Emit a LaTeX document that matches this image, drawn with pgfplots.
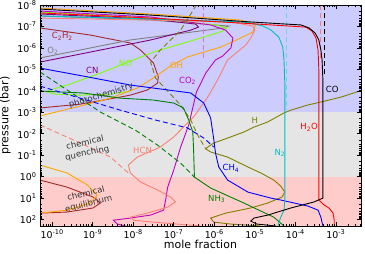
\documentclass[border=0pt]{standalone}
\usepackage{pgfplots}
\pgfplotsset{compat=1.18}
\usepackage{fontspec}
\setmainfont{DejaVu Sans}
\definecolor{bgblue}{rgb}{0.8,0.8,1}
\definecolor{bggray}{rgb}{0.898,0.898,0.898}
\definecolor{bgpink}{rgb}{1,0.8,0.8}
\definecolor{cbrown}{rgb}{0.65,0.16,0.16}
\definecolor{cgray}{rgb}{0.5,0.5,0.5}
\definecolor{cpurple}{rgb}{0.5,0,0.5}
\definecolor{clime}{rgb}{0.5,1,0}
\definecolor{corange}{rgb}{1,0.65,0}
\definecolor{cmagenta}{rgb}{0.75,0,0.75}
\definecolor{csalmon}{rgb}{0.98,0.5,0.45}
\definecolor{colive}{rgb}{0.5,0.5,0}
\definecolor{ccyan}{rgb}{0,0.75,0.75}
\definecolor{cgreen}{rgb}{0,0.5,0}
\definecolor{txt}{rgb}{0.2,0.2,0.2}
\begin{document}
\begin{tikzpicture}
\useasboundingbox (-40pt,-28pt) rectangle (325pt,226pt);
\begin{axis}[
  at={(0,0)}, anchor=south west, scale only axis,
  width=321pt, height=221pt,
  xmin=-10.3, xmax=-2.38, ymin=-8, ymax=2.3, y dir=reverse,
  xtick={-10,-9,-8,-7,-6,-5,-4,-3},
  xticklabels={10\textsuperscript{-10},10\textsuperscript{-9},10\textsuperscript{-8},10\textsuperscript{-7},10\textsuperscript{-6},10\textsuperscript{-5},10\textsuperscript{-4},10\textsuperscript{-3}},
  ytick={-8,-7,-6,-5,-4,-3,-2,-1,0,1,2},
  yticklabels={10\textsuperscript{-8},10\textsuperscript{-7},10\textsuperscript{-6},10\textsuperscript{-5},10\textsuperscript{-4},10\textsuperscript{-3},10\textsuperscript{-2},10\textsuperscript{-1},10\textsuperscript{0},10\textsuperscript{1},10\textsuperscript{2}},
  minor xtick={-10.222,-10.155,-10.097,-10.046,
    -9.699,-9.523,-9.398,-9.301,-9.222,-9.155,-9.097,-9.046,
    -8.699,-8.523,-8.398,-8.301,-8.222,-8.155,-8.097,-8.046,
    -7.699,-7.523,-7.398,-7.301,-7.222,-7.155,-7.097,-7.046,
    -6.699,-6.523,-6.398,-6.301,-6.222,-6.155,-6.097,-6.046,
    -5.699,-5.523,-5.398,-5.301,-5.222,-5.155,-5.097,-5.046,
    -4.699,-4.523,-4.398,-4.301,-4.222,-4.155,-4.097,-4.046,
    -3.699,-3.523,-3.398,-3.301,-3.222,-3.155,-3.097,-3.046,
    -2.699,-2.523,-2.398},
  minor ytick={-7.699,-7.523,-7.398,-7.301,-7.222,-7.155,-7.097,-7.046,
    -6.699,-6.523,-6.398,-6.301,-6.222,-6.155,-6.097,-6.046,
    -5.699,-5.523,-5.398,-5.301,-5.222,-5.155,-5.097,-5.046,
    -4.699,-4.523,-4.398,-4.301,-4.222,-4.155,-4.097,-4.046,
    -3.699,-3.523,-3.398,-3.301,-3.222,-3.155,-3.097,-3.046,
    -2.699,-2.523,-2.398,-2.301,-2.222,-2.155,-2.097,-2.046,
    -1.699,-1.523,-1.398,-1.301,-1.222,-1.155,-1.097,-1.046,
    -0.699,-0.523,-0.398,-0.301,-0.222,-0.155,-0.097,-0.046,
    0.301,0.477,0.602,0.699,0.778,0.845,0.903,0.954,
    1.301,1.477,1.602,1.699,1.778,1.845,1.903,1.954},
  tick align=inside, major tick length=4pt, minor tick length=2pt,
  tick style={black, line width=0.6pt},
  axis line style={line width=0.8pt},
  axis on top,
  xlabel={mole fraction}, ylabel={pressure (bar)},
  xlabel style={yshift=5pt},
  ticklabel style={font=\fontsize{9.4}{10}\selectfont},
  label style={font=\fontsize{11}{12}\selectfont},
  every axis plot/.append style={line width=0.9pt},
]
% background regions
\addplot[draw=none, fill=bgblue] coordinates {(-10.3,-8) (-2.38,-8) (-2.38,-3) (-10.3,-3)} -- cycle;
\addplot[draw=none, fill=bggray] coordinates {(-10.3,-3) (-2.38,-3) (-2.38,0) (-10.3,0)} -- cycle;
\addplot[draw=none, fill=bgpink] coordinates {(-10.3,0) (-2.38,0) (-2.38,2.3) (-10.3,2.3)} -- cycle;

% C2H2
\addplot[cbrown] coordinates {(-10.30,-6.93) (-9.06,-6.60) (-8.07,-6.23) (-7.82,-5.90) (-7.50,-5.30) (-7.38,-4.64) (-7.40,-4.36) (-7.65,-4.04) (-8.07,-3.80) (-8.32,-3.71) (-9.31,-3.38) (-10.30,-3.20)};
\addplot[cbrown] coordinates {(-10.30,0.16) (-9.63,0.49) (-8.99,0.95) (-8.81,1.23) (-8.99,1.46) (-9.63,1.65) (-10.30,1.70)};
% O2
\addplot[cgray] coordinates {(-10.30,-7.49) (-7.57,-7.30) (-5.64,-7.02) (-5.77,-6.93) (-8.07,-6.37) (-10.30,-5.53)};
% CN
\addplot[cpurple] coordinates {(-10.30,-7.58) (-7.57,-7.35) (-6.46,-7.11) (-6.39,-6.97) (-6.58,-6.83) (-7.57,-6.37) (-8.81,-5.90) (-10.30,-5.34)};
% NO
\addplot[clime] coordinates {(-10.30,-7.67) (-7.57,-7.39) (-5.97,-7.07) (-5.69,-6.93) (-5.79,-6.79) (-6.01,-6.65) (-6.66,-6.28) (-7.50,-5.81) (-7.99,-5.44) (-8.81,-4.83) (-9.55,-4.32) (-10.05,-4.04) (-10.12,-3.94) (-9.93,-3.85) (-9.31,-3.80) (-8.56,-3.85) (-8.07,-3.99)};
% OH
\addplot[corange] coordinates {(-10.30,-7.86) (-7.57,-7.58) (-5.35,-7.30) (-4.98,-7.07) (-5.05,-6.74) (-5.35,-6.46) (-5.84,-6.04) (-6.66,-5.58) (-7.08,-5.16) (-7.50,-4.60) (-7.90,-4.13) (-8.56,-3.66) (-9.31,-3.29) (-10.30,-2.83)};
\addplot[corange] coordinates {(-10.30,-0.54) (-9.63,-0.17) (-9.13,0.39) (-8.89,0.86) (-9.06,1.23) (-9.63,1.56) (-10.30,1.70)};
% CO2
\addplot[cmagenta] coordinates {(-10.30,-7.72) (-7.57,-7.44) (-6.09,-7.07) (-5.72,-6.83) (-5.54,-6.46) (-5.59,-6.00) (-5.79,-5.62) (-5.97,-5.44) (-6.21,-4.83) (-6.44,-3.94) (-6.63,-2.41) (-6.83,-1.38) (-7.00,-0.31) (-7.15,0.49) (-7.20,1.09) (-7.25,1.56) (-7.57,1.79) (-8.07,1.93) (-8.49,2.03) (-8.39,2.21) (-8.19,2.30)};
\addplot[cmagenta!55!white, dash pattern=on 5pt off 3pt] coordinates {(-6.26,-8) (-6.26,-5.53)};
% HCN
\addplot[csalmon] coordinates {(-10.30,-7.39) (-7.57,-7.30) (-5.59,-7.21) (-5.05,-7.02) (-5.00,-6.83) (-5.10,-6.46) (-5.22,-6.14) (-5.67,-5.44) (-5.92,-4.50) (-6.16,-3.71) (-6.51,-2.78) (-6.76,-2.31) (-7.00,-1.85) (-7.33,-1.38) (-7.50,-1.24) (-7.90,-0.91) (-8.12,-0.54) (-8.07,-0.17) (-7.82,0.25) (-7.40,0.62) (-7.08,0.95) (-6.96,1.18) (-7.15,1.42) (-7.65,1.70) (-8.07,1.89) (-7.99,2.03) (-7.50,2.12) (-6.91,2.21) (-6.34,2.30)};
\addplot[csalmon, dash pattern=on 5pt off 3pt] coordinates {(-10.30,-2.41) (-9.31,-1.57) (-8.56,-0.91) (-8.12,-0.17)};
% H
\addplot[colive] coordinates {(-2.33,-4.04) (-2.87,-3.71) (-3.37,-3.48) (-3.69,-3.34) (-4.11,-3.10) (-4.28,-2.97) (-4.68,-2.55) (-5.02,-2.31) (-5.27,-2.08) (-5.67,-1.80) (-6.01,-1.57) (-6.16,-1.38) (-6.21,-1.29) (-6.09,-1.15) (-5.67,-0.91) (-5.17,-0.45) (-4.85,-0.17) (-4.53,0.16) (-4.36,0.44) (-4.26,0.72) (-4.33,0.95) (-4.68,1.23) (-5.10,1.46) (-5.72,1.70) (-6.09,1.93) (-6.01,2.12) (-5.59,2.21) (-4.85,2.30)};
\addplot[colive, dash pattern=on 5pt off 3pt] coordinates {(-6.44,-8.0) (-6.83,-6.83) (-7.33,-5.90) (-7.57,-5.34) (-7.45,-4.60) (-7.13,-3.94) (-6.83,-3.34) (-6.58,-2.64) (-6.41,-1.94) (-6.21,-1.29)};
% NH3
\addplot[cgreen] coordinates {(-10.30,-3.99) (-9.24,-3.90) (-8.32,-3.66) (-7.50,-3.57) (-7.00,-3.43) (-6.76,-3.20) (-6.63,-2.64) (-6.53,-2.08) (-6.51,-1.24) (-6.49,0.02) (-6.09,0.53) (-5.27,1.23) (-4.53,1.89) (-4.28,2.30)};
\addplot[cgreen, dash pattern=on 5pt off 3pt] coordinates {(-10.30,-4.88) (-8.81,-3.01) (-7.95,-2.17) (-7.40,-1.47) (-6.83,-0.63) (-6.49,0.02)};
% CH4
\addplot[blue] coordinates {(-10.30,-5.06) (-9.24,-4.69) (-8.07,-4.27) (-6.58,-3.90) (-6.26,-3.43) (-6.09,-2.74) (-6.01,-1.71) (-5.97,-1.10) (-5.89,-0.45) (-5.67,0.16) (-5.17,0.72) (-4.60,1.00) (-4.36,1.09) (-3.69,1.37) (-3.44,1.56) (-3.37,1.89) (-3.32,2.30)};
\addplot[blue, dash pattern=on 5pt off 3pt] coordinates {(-10.30,-4.22) (-9.31,-3.66) (-8.32,-3.10) (-7.45,-2.64) (-6.66,-2.27) (-6.26,-1.80) (-6.01,-1.38)};
% N2
\addplot[ccyan] coordinates {(-10.30,-7.49) (-7.57,-7.35) (-5.35,-7.21) (-5.10,-7.16) (-4.80,-7.02) (-4.60,-6.83) (-4.41,-6.51) (-4.31,-6.04) (-4.28,-5.44) (-4.26,-4.36) (-4.26,1.09) (-4.28,1.56) (-4.36,1.89) (-4.41,2.16) (-4.43,2.30)};
\addplot[ccyan!60!white, dash pattern=on 5pt off 3pt] coordinates {(-4.23,-8) (-4.23,-3.1)};
% H2O
\addplot[red] coordinates {(-10.30,-7.63) (-7.57,-7.39) (-5.35,-7.16) (-3.74,-6.97) (-3.59,-6.79) (-3.49,-6.46) (-3.44,-5.90) (-3.42,-4.97) (-3.42,1.09) (-3.29,1.32) (-3.17,1.46) (-3.07,1.70) (-3.04,2.03) (-3.04,2.30)};
\addplot[red!55!white, dash pattern=on 5pt off 3pt] coordinates {(-3.39,-8) (-3.39,-5.44)};
% CO
\addplot[black] coordinates {(-10.30,-7.81) (-7.57,-7.53) (-5.10,-7.21) (-3.86,-7.07) (-3.66,-6.93) (-3.51,-6.69) (-3.42,-6.37) (-3.37,-5.90) (-3.34,-5.44) (-3.32,-4.50) (-3.32,1.00) (-3.54,1.18) (-4.11,1.46) (-4.68,1.79) (-5.02,1.93) (-5.10,2.07) (-4.95,2.21) (-4.48,2.30)};
\addplot[black, dash pattern=on 5pt off 3pt] coordinates {(-3.29,-8) (-3.29,-4.74)};

% labels
\begin{scope}[every node/.style={font=\fontsize{8.5}{10.5}\selectfont}]
\node[cbrown] at (axis cs:-9.75,-6.55) {C\textsubscript{2}H\textsubscript{2}};
\node[cgray] at (axis cs:-9.98,-5.86) {O\textsubscript{2}};
\node[cpurple] at (axis cs:-9.01,-4.97) {CN};
\node[clime] at (axis cs:-8.19,-5.30) {NO};
\node[corange] at (axis cs:-6.93,-5.20) {OH};
\node[cmagenta] at (axis cs:-6.66,-4.46) {CO\textsubscript{2}};
\node[black] at (axis cs:-3.09,-4.08) {CO};
\node[colive] at (axis cs:-5.00,-2.64) {H};
\node[red] at (axis cs:-3.66,-2.31) {H\textsubscript{2}O};
\node[csalmon] at (axis cs:-7.77,-1.24) {HCN};
\node[ccyan] at (axis cs:-4.38,-1.10) {N\textsubscript{2}};
\node[blue] at (axis cs:-5.59,-0.40) {CH\textsubscript{4}};
\node[cgreen] at (axis cs:-5.94,1.04) {NH\textsubscript{3}};
\node[txt, rotate=17] at (axis cs:-8.79,-3.76) {photochemistry};
\node[txt, rotate=12, align=center, inner sep=0pt] at (axis cs:-9.16,-1.33) {chemical\\quenching};
\node[txt, rotate=14, align=center, inner sep=0pt] at (axis cs:-9.13,1.04) {chemical\\equilibrium};
\end{scope}
\end{axis}
\end{tikzpicture}
\end{document}
